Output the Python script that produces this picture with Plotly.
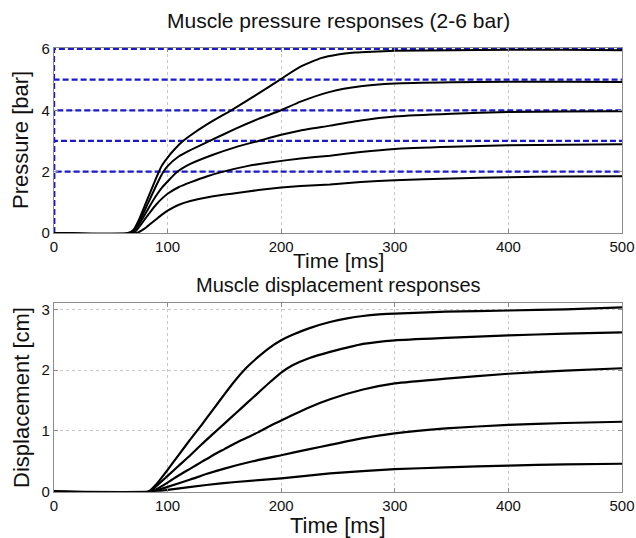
import plotly.graph_objects as go

# ---------------- data ----------------
ref_levels = [2, 3, 4, 5, 6]

p6_t = [0, 65, 70, 75, 80, 85, 90, 95, 100, 106, 113, 120, 135, 156, 178, 199, 217, 235, 250, 265, 280, 300, 350, 400, 450, 500]
p6_v = [0, 0, 0.1, 0.45, 0.9, 1.35, 1.8, 2.2, 2.46, 2.72, 2.98, 3.18, 3.55, 4.0, 4.5, 5.0, 5.42, 5.7, 5.82, 5.88, 5.91, 5.94, 5.96, 5.97, 5.97, 5.96]

p5_t = [0, 67, 75, 80, 85, 90, 96, 100, 110, 120, 137, 160, 180, 200, 217, 243, 270, 300, 350, 400, 450, 500]
p5_v = [0, 0, 0.35, 0.75, 1.15, 1.55, 1.98, 2.18, 2.5, 2.7, 3.0, 3.4, 3.72, 4.0, 4.28, 4.6, 4.78, 4.87, 4.91, 4.93, 4.93, 4.92]

p4_t = [0, 68, 75, 80, 85, 90, 95, 100, 108, 120, 140, 160, 180, 200, 217, 243, 270, 300, 350, 400, 450, 500]
p4_v = [0, 0, 0.3, 0.6, 0.92, 1.22, 1.48, 1.68, 1.98, 2.25, 2.55, 2.8, 3.0, 3.2, 3.34, 3.5, 3.67, 3.8, 3.89, 3.94, 3.96, 3.97]

p3_t = [0, 70, 75, 80, 85, 90, 95, 100, 110, 120, 135, 149, 170, 190, 217, 243, 270, 300, 350, 400, 450, 500]
p3_v = [0, 0, 0.2, 0.45, 0.7, 0.93, 1.12, 1.28, 1.5, 1.65, 1.85, 2.0, 2.18, 2.3, 2.43, 2.52, 2.64, 2.74, 2.81, 2.86, 2.88, 2.89]

p2_t = [0, 73, 80, 85, 90, 95, 100, 110, 120, 140, 158, 180, 200, 217, 243, 270, 300, 350, 400, 450, 500]
p2_v = [0, 0, 0.15, 0.3, 0.45, 0.6, 0.73, 0.92, 1.04, 1.2, 1.29, 1.4, 1.48, 1.53, 1.58, 1.66, 1.72, 1.78, 1.82, 1.84, 1.85]

d1_t = [0, 83, 90, 100, 110, 120, 130, 140, 150, 160, 170, 180, 190, 200, 210, 225, 243, 258, 272, 286, 300, 345, 400, 450, 500]
d1_v = [0, 0, 0.12, 0.36, 0.61, 0.86, 1.1, 1.35, 1.6, 1.84, 2.05, 2.22, 2.37, 2.49, 2.58, 2.69, 2.79, 2.85, 2.89, 2.915, 2.93, 2.96, 2.98, 3.0, 3.03]

d2_t = [0, 84, 90, 100, 110, 120, 130, 140, 150, 160, 170, 180, 190, 200, 210, 225, 243, 258, 272, 300, 345, 400, 450, 500]
d2_v = [0, 0, 0.09, 0.26, 0.43, 0.6, 0.78, 0.95, 1.12, 1.29, 1.46, 1.63, 1.8, 1.96, 2.08, 2.2, 2.3, 2.37, 2.43, 2.49, 2.53, 2.57, 2.6, 2.62]

d3_t = [0, 85, 90, 100, 110, 120, 130, 140, 150, 160, 170, 180, 190, 200, 210, 225, 243, 272, 300, 345, 400, 450, 500]
d3_v = [0, 0, 0.04, 0.15, 0.27, 0.38, 0.49, 0.6, 0.7, 0.8, 0.89, 0.98, 1.08, 1.17, 1.26, 1.39, 1.52, 1.68, 1.78, 1.86, 1.94, 1.99, 2.03]

d4_t = [0, 86, 100, 120, 134, 150, 175, 200, 225, 243, 272, 300, 345, 400, 450, 500]
d4_v = [0, 0, 0.08, 0.2, 0.29, 0.38, 0.5, 0.6, 0.7, 0.77, 0.88, 0.96, 1.04, 1.1, 1.13, 1.15]

d5_t = [0, 87, 100, 134, 160, 200, 243, 300, 345, 400, 450, 500]
d5_v = [0, 0, 0.03, 0.11, 0.16, 0.22, 0.3, 0.37, 0.4, 0.43, 0.45, 0.46]

x_ticks = [0, 100, 200, 300, 400, 500]
p_ticks = [0, 2, 4, 6]
d_ticks = [0, 1, 2, 3]

title_top = "Muscle pressure responses (2-6 bar)"
title_bot = "Muscle displacement responses"
xlabel = "Time [ms]"
ylabel_top = "Pressure [bar]"
ylabel_bot = "Displacement [cm]"

# ---------------- figure ----------------
W, H = 636, 538
FONT = "Liberation Sans, Arial, Helvetica, sans-serif"
BLUE = "#1a1acc"
fig = go.Figure()

# reference steps (blue dashed)
for lv in ref_levels:
    fig.add_trace(go.Scatter(x=[0, 0, 500], y=[0, lv, lv], mode="lines",
                             line=dict(color=BLUE, width=2.2, dash="6px,3px"),
                             xaxis="x", yaxis="y", showlegend=False, hoverinfo="skip"))

for t, v in [(p6_t, p6_v), (p5_t, p5_v), (p4_t, p4_v), (p3_t, p3_v), (p2_t, p2_v)]:
    fig.add_trace(go.Scatter(x=t, y=v, mode="lines",
                             line=dict(color="black", width=2, shape="spline", smoothing=0.5),
                             xaxis="x", yaxis="y", showlegend=False))

for t, v in [(d1_t, d1_v), (d2_t, d2_v), (d3_t, d3_v), (d4_t, d4_v), (d5_t, d5_v)]:
    fig.add_trace(go.Scatter(x=t, y=v, mode="lines",
                             line=dict(color="black", width=2.2, shape="spline", smoothing=0.5),
                             xaxis="x2", yaxis="y2", showlegend=False))

xd = [54 / W, 622 / W]
top_dom = [(H - 233) / H, (H - 48) / H]
bot_dom = [(H - 491.7) / H, (H - 303.2) / H]

axis_common = dict(showline=True, linecolor="#8c8c8c", linewidth=1.2, mirror="ticks",
                   ticks="inside", ticklen=4, tickcolor="#8c8c8c", automargin=False,
                   showgrid=True, gridcolor="#c8c8c8", griddash="dot", gridwidth=1,
                   zeroline=False, tickfont=dict(family=FONT, size=15, color="#111"))

fig.update_layout(
    width=W, height=H, margin=dict(l=0, r=0, t=0, b=0),
    paper_bgcolor="white", plot_bgcolor="white",
    font=dict(family=FONT, color="#111"),
    xaxis=dict(domain=xd, range=[0, 500], tickvals=x_ticks, anchor="y", **axis_common),
    yaxis=dict(domain=top_dom, range=[0, 6.03], tickvals=p_ticks, anchor="x", **axis_common),
    xaxis2=dict(domain=xd, range=[0, 500], tickvals=x_ticks, anchor="y2", **axis_common),
    yaxis2=dict(domain=bot_dom, range=[0, 3.1], tickvals=d_ticks, anchor="x2", **axis_common),
)

def ann(text, x, y, size, angle=0):
    fig.add_annotation(text=text, x=x / W, y=1 - y / H, xref="paper", yref="paper",
                       showarrow=False, textangle=angle, xanchor="center", yanchor="middle",
                       font=dict(family=FONT, size=size, color="#111"))

ann(title_top, 338, 20, 21)
ann(xlabel, 338, 260, 21)
ann(title_bot, 338, 285, 20)
ann(xlabel, 338, 525, 22)
ann(ylabel_top, 21, 140, 22, -90)
ann(ylabel_bot, 21, 398, 22, -90)

fig.write_html("out.html", config={"displayModeBar": False},
               post_script="document.body.style.margin='0';document.body.style.overflow='hidden';")
